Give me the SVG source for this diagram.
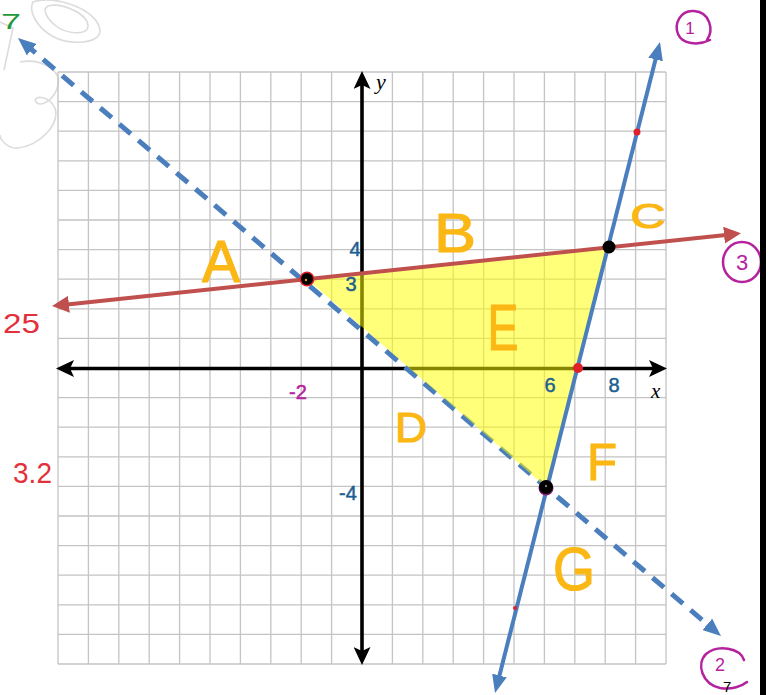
<svg xmlns="http://www.w3.org/2000/svg" width="769" height="695" viewBox="0 0 769 695">
<style>
.grid{fill:none;stroke:#c4c4c4;stroke-width:1.3}
.wm{fill:none;stroke:#dcdcdc;stroke-width:1.6}
.axis{stroke:#000;stroke-width:3.6;fill:none}
.blue{stroke:#4a7ebd;stroke-width:4;fill:none}
.dash{stroke:#4a7ebd;stroke-width:5;fill:none;stroke-dasharray:15 10}
.red{stroke:#c0504d;stroke-width:4;fill:none}
.lbl{font-family:"Liberation Sans",Arial,sans-serif;fill:#fbb714;stroke:#fbb714;stroke-width:1.2;stroke-linejoin:round;text-anchor:middle}
.num{font-family:"Liberation Sans",Arial,sans-serif;fill:#1e5f91;stroke:#1e5f91;stroke-width:0.5;font-size:20px;text-anchor:middle}
.mag{font-family:"Liberation Sans",Arial,sans-serif;fill:#b5229e}
.circ{fill:none;stroke:#b5229e;stroke-width:2.5;stroke-linecap:round}
.redt{font-family:"Liberation Sans",Arial,sans-serif;fill:#e2313d}
.ital{font-family:"Liberation Serif","Times New Roman",serif;font-style:italic;fill:#000}
</style>
<defs>
<marker id="ak" markerUnits="userSpaceOnUse" viewBox="0 0 18 17" markerWidth="18" markerHeight="17" refX="10" refY="8.5" orient="auto-start-reverse"><polygon points="0,0 18,8.5 0,17 4,8.5" fill="#000"/></marker>
<marker id="ab" markerUnits="userSpaceOnUse" viewBox="0 0 18 15" markerWidth="18" markerHeight="15" refX="10" refY="7.5" orient="auto-start-reverse"><polygon points="0,0 18,7.5 0,15" fill="#4a7ebd"/></marker>
<marker id="ar" markerUnits="userSpaceOnUse" viewBox="0 0 17 17" markerWidth="17" markerHeight="17" refX="9" refY="8.5" orient="auto-start-reverse"><polygon points="0,0 17,8.5 0,17" fill="#c0504d"/></marker>
</defs>
<rect width="769" height="695" fill="#fff"/>
<g id="watermark">
<path class="wm" d="M33,2 C55,-6 98,10 100,30 C101,44 70,46 52,36 C38,28 28,12 33,2 Z"/>
<path class="wm" d="M48,6 C62,2 88,14 88,26 C88,36 66,34 56,26 C46,18 42,9 48,6 Z"/>
<path class="wm" d="M0,22 L13,28 L4,70"/>
<path class="wm" d="M20,62 C40,58 62,70 58,85 C55,100 40,108 36,102 C32,96 48,94 55,108 C60,125 40,145 18,148 C8,149 0,140 0,135"/>
</g>
<g id="grid">
<path class="grid" d="M58,72V664M88.4,72V664M118.8,72V664M149.2,72V664M179.6,72V664M210,72V664M240.4,72V664M270.8,72V664M301.2,72V664M331.6,72V664M362,72V664M392.4,72V664M422.8,72V664M453.2,72V664M483.6,72V664M514,72V664M544.4,72V664M574.8,72V664M605.2,72V664M635.6,72V664M666,72V664M58,72H666M58,101.6H666M58,131.2H666M58,160.8H666M58,190.4H666M58,220H666M58,249.6H666M58,279.2H666M58,308.8H666M58,338.4H666M58,368H666M58,397.6H666M58,427.2H666M58,456.8H666M58,486.4H666M58,516H666M58,545.6H666M58,575.2H666M58,604.8H666M58,634.4H666M58,664H666"/>
</g>
<g id="connectors">
<line id="x-axis" class="axis" x1="64" y1="368.5" x2="659" y2="368.5" marker-start="url(#ak)" marker-end="url(#ak)"/>
<line id="y-axis" class="axis" x1="362" y1="79" x2="362" y2="657" marker-start="url(#ak)" marker-end="url(#ak)"/>
<line id="line2" class="dash" x1="24.1" y1="43.2" x2="714.9" y2="630.8" marker-start="url(#ab)" marker-end="url(#ab)"/>
</g>
<g id="region-E">
<polygon points="307,279 609,247 546,487" fill="#ffff00" fill-opacity="0.52"/>
</g>
<g id="connectors-solid">
<line id="line3" class="red" x1="60" y1="305.2" x2="733" y2="234.2" marker-start="url(#ar)" marker-end="url(#ar)"/>
<line id="line1" class="blue" x1="658" y1="49.8" x2="497" y2="685.2" marker-start="url(#ab)" marker-end="url(#ab)"/>
</g>
<g id="points">
<circle cx="307" cy="279" r="7.5" fill="#e0202a"/>
<circle cx="307" cy="279" r="6" fill="#000"/>
<circle cx="306" cy="280" r="1.2" fill="#e8a020"/>
<circle cx="609" cy="247" r="6.5" fill="#000"/>
<circle cx="546" cy="488" r="7.5" fill="#8a1f7a"/>
<circle cx="546" cy="487" r="7" fill="#000"/>
<circle cx="546" cy="486" r="1.2" fill="#777"/>
<circle cx="637" cy="132" r="3.5" fill="#e0202a"/>
<circle cx="578" cy="368" r="5" fill="#e0202a"/>
<circle cx="515" cy="608" r="2" fill="#e0202a"/>
</g>
<g id="labels">
<text class="lbl" x="221" y="282" font-size="60" textLength="38" lengthAdjust="spacingAndGlyphs">A</text>
<text class="lbl" x="455" y="252" font-size="56" textLength="42" lengthAdjust="spacingAndGlyphs">B</text>
<text class="lbl" x="648" y="228" font-size="35" textLength="35" lengthAdjust="spacingAndGlyphs">C</text>
<text class="lbl" x="503" y="350" font-size="64" textLength="31" lengthAdjust="spacingAndGlyphs">E</text>
<text class="lbl" x="411" y="442" font-size="42" textLength="32" lengthAdjust="spacingAndGlyphs">D</text>
<text class="lbl" x="602" y="480" font-size="52" textLength="30" lengthAdjust="spacingAndGlyphs">F</text>
<text class="lbl" x="574" y="590" font-size="62" textLength="42" lengthAdjust="spacingAndGlyphs">G</text>
</g>
<g id="ticks">
<text class="num" x="355" y="256">4</text>
<text class="num" x="351" y="291">3</text>
<text class="num" x="550" y="392">6</text>
<text class="num" x="614" y="392">8</text>
<text class="num" x="348" y="500">-4</text>
<text class="mag" x="298" y="399" font-size="20" text-anchor="middle" stroke="#b5229e" stroke-width="0.5">-2</text>
<text class="ital" x="651" y="398" font-size="21">x</text>
<text class="ital" x="376" y="89" font-size="22">y</text>
</g>
<g id="notes">
<text class="redt" x="3" y="333" font-size="28" textLength="37" lengthAdjust="spacingAndGlyphs">25</text>
<text class="redt" x="13" y="483" font-size="29" textLength="39" lengthAdjust="spacingAndGlyphs">3.2</text>
<text x="1" y="29" font-family="Liberation Sans,Arial,sans-serif" font-size="22" fill="#1f9a3a" textLength="20" lengthAdjust="spacingAndGlyphs">7</text>
</g>
<g id="eq1">
<path class="circ" d="M707,40 C714,30 710,12 694,11 C680,10 674,24 678,34 C682,44 698,46 710,40"/>
<text class="mag" x="690" y="34" font-size="17" text-anchor="middle">1</text>
</g>
<g id="eq3">
<ellipse class="circ" cx="742" cy="262" rx="19" ry="20"/>
<text class="mag" x="742" y="270" font-size="22" text-anchor="middle">3</text>
</g>
<g id="eq2">
<path class="circ" d="M744,660 C740,648 718,644 706,654 C696,664 702,684 720,688 C732,690 742,686 747,682"/>
<text class="mag" x="720" y="671" font-size="18" text-anchor="middle">2</text>
</g>
<text x="723" y="692" font-family="Liberation Sans,Arial,sans-serif" font-size="15" fill="#000">7</text>
<rect x="760" y="0" width="6" height="695" fill="#000"/>
</svg>
